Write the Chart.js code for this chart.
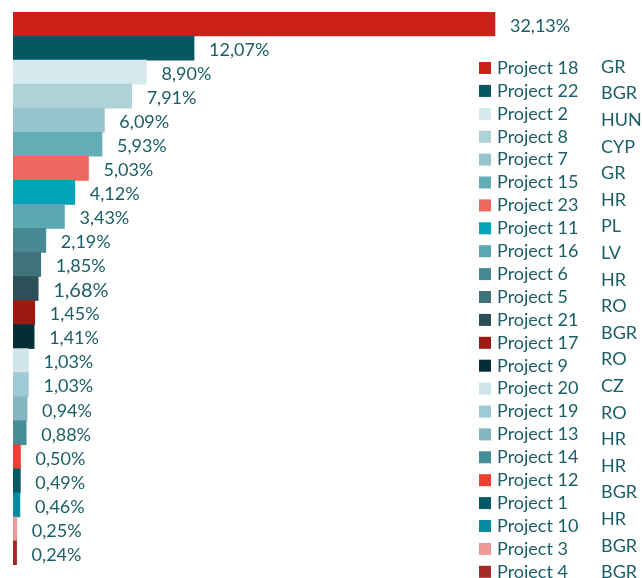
<!DOCTYPE html>
<html>
<head>
<meta charset="utf-8">
<script src="https://cdn.jsdelivr.net/npm/chart.js@4"></script>
<style>
  html, body { margin: 0; padding: 0; background: #fff; }
  #wrap { width: 642px; height: 578px; }
</style>
</head>
<body>
<div id="wrap"><canvas id="myChart"></canvas></div>
<script>
const projects = ['Project 18', 'Project 22', 'Project 2', 'Project 8', 'Project 7', 'Project 15',
  'Project 23', 'Project 11', 'Project 16', 'Project 6', 'Project 5', 'Project 21', 'Project 17',
  'Project 9', 'Project 20', 'Project 19', 'Project 13', 'Project 14', 'Project 12', 'Project 1',
  'Project 10', 'Project 3', 'Project 4']
const shares = [32.13, 12.07, 8.90, 7.91, 6.09, 5.93, 5.03, 4.12, 3.43, 2.19, 1.85, 1.68, 1.45,
  1.41, 1.03, 1.03, 0.94, 0.88, 0.50, 0.49, 0.46, 0.25, 0.24]
const countries = ['GR', 'BGR', 'HUN', 'CYP', 'GR', 'HR', 'PL', 'LV', 'HR', 'RO', 'BGR', 'RO',
  'CZ', 'RO', 'HR', 'HR', 'BGR', 'HR', 'BGR', 'BGR']

const colors = ['#cc2119', '#045862', '#d6e9ee', '#add3d9', '#97c5cd', '#63adb7', '#ee665e',
  '#00a3b8', '#5aa9b2', '#478a94', '#3f727a', '#2b5058', '#9c1a12', '#032e36', '#cfe5e8',
  '#9ecbd3', '#84b6c1', '#478d98', '#ef3e33', '#005a66', '#008ca0', '#ee9a94', '#a52a26']

const textColor = '#1b5e66'
const fontFamily = 'Lato, "Noto Sans", sans-serif'

// percentage labels at the end of each bar
const valueLabels = {
  id: 'valueLabels',
  afterDatasetsDraw(chart) {
    const ctx = chart.ctx
    const meta = chart.getDatasetMeta(0)
    ctx.save()
    ctx.fillStyle = textColor
    ctx.textBaseline = 'middle'
    ctx.textAlign = 'left'
    meta.data.forEach((bar, i) => {
      const size = i === 11 ? 20 : 18
      ctx.font = size + 'px ' + fontFamily
      const txt = shares[i].toFixed(2).replace('.', ',') + '%'
      ctx.fillText(txt, bar.x + 15, bar.y + 2)
    })
    ctx.restore()
  }
}

// legend box on the right, with the country column next to it
const sideLegend = {
  id: 'sideLegend',
  afterDraw(chart) {
    const ctx = chart.ctx
    ctx.save()
    ctx.font = '18px ' + fontFamily
    ctx.textBaseline = 'middle'
    projects.forEach((p, i) => {
      const y = 68 + i * 22.9
      ctx.fillStyle = colors[i]
      ctx.fillRect(479, y - 6, 12, 12)
      ctx.fillStyle = textColor
      ctx.fillText(p, 497, y)
    })
    countries.forEach((c, i) => {
      ctx.fillText(c, 601, 67 + i * 26.6)
    })
    ctx.restore()
  }
}

const data = {
  labels: projects,
  datasets: [{
    data: shares,
    backgroundColor: colors,
    borderWidth: 0,
    barPercentage: 1,
    categoryPercentage: 1
  }]
}

const config = {
  type: 'bar',
  data: data,
  options: {
    indexAxis: 'y',
    responsive: true,
    maintainAspectRatio: false,
    animation: false,
    layout: { padding: { left: 13, right: 29, top: 12, bottom: 13 } },
    scales: {
      x: { display: false, min: 0, max: 40 },
      y: { display: false }
    },
    plugins: {
      legend: { display: false },
      tooltip: { enabled: false }
    }
  },
  plugins: [valueLabels, sideLegend]
}

new Chart(document.getElementById('myChart'), config)
</script>
</body>
</html>
